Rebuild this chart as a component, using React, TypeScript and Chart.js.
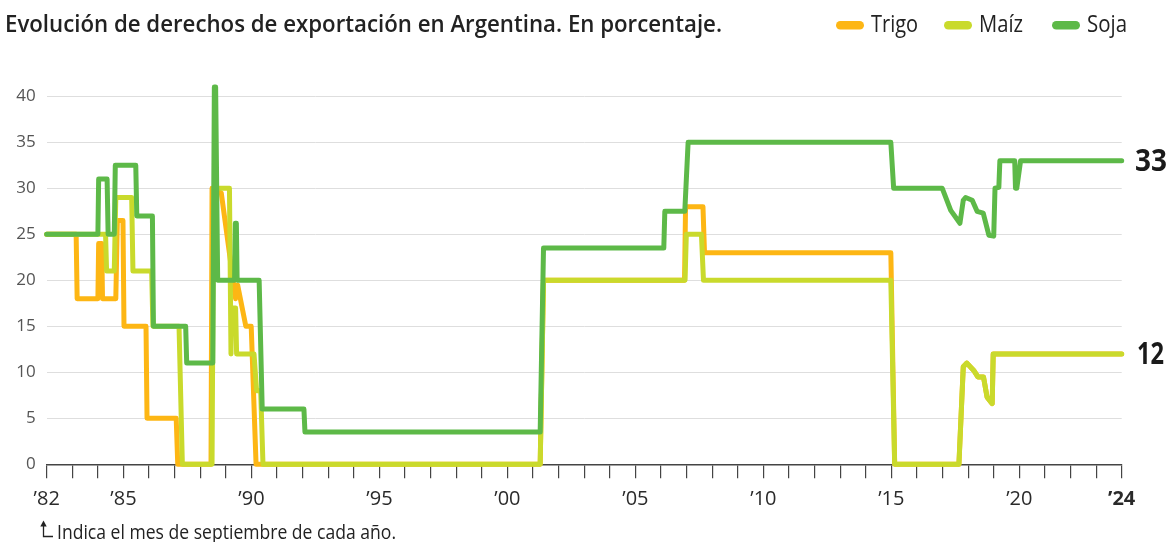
import React, { useEffect, useRef } from 'react';
import { Chart, registerables } from 'chart.js';

Chart.register(...registerables);

// ---------- DATA ----------
const titleText = 'Evolución de derechos de exportación en Argentina. En porcentaje.';
const footnoteText = 'Indica el mes de septiembre de cada año.';

const seriesNames = ['Trigo', 'Maíz', 'Soja'];
const seriesColors = ['#FDB614', '#C9DA2C', '#5DB948'];

// [year (decimal), percentage]
const trigoPoints: [number, number][] = [
  [1982, 25], [1983.15, 25], [1983.19, 18], [1984.0, 18], [1984.03, 24], [1984.15, 24], [1984.18, 18],
  [1984.7, 18], [1984.76, 26.5], [1984.98, 26.5], [1985.02, 15], [1985.88, 15], [1985.92, 5],
  [1987.06, 5], [1987.12, 0], [1988.42, 0], [1988.46, 30], [1988.82, 29.5], [1989.38, 18],
  [1989.46, 19.5], [1989.78, 15], [1989.99, 15], [1990.18, 0], [2001.28, 0], [2001.41, 20],
  [2006.92, 20], [2006.96, 28], [2007.64, 28], [2007.7, 23], [2014.98, 23], [2015.13, 0],
  [2017.64, 0], [2017.81, 10.6], [2017.95, 11], [2018.22, 10.2], [2018.38, 9.5], [2018.6, 9.5],
  [2018.74, 7.3], [2018.94, 6.6], [2018.98, 12], [2024, 12],
];

const maizPoints: [number, number][] = [
  [1982, 25], [1984.3, 25], [1984.34, 21], [1984.64, 21], [1984.7, 29], [1985.32, 29], [1985.37, 21],
  [1986.1, 21], [1986.15, 15], [1987.17, 15], [1987.3, 0], [1988.46, 0], [1988.52, 30],
  [1989.14, 30], [1989.2, 12], [1989.22, 17], [1989.38, 17], [1989.42, 12], [1990.1, 12],
  [1990.2, 8], [1990.36, 8], [1990.45, 0], [2001.28, 0], [2001.41, 20], [2006.94, 20],
  [2006.99, 25], [2007.58, 25], [2007.66, 20], [2014.98, 20], [2015.13, 0], [2017.64, 0],
  [2017.81, 10.6], [2017.95, 11], [2018.22, 10.2], [2018.38, 9.5], [2018.6, 9.5], [2018.74, 7.3],
  [2018.94, 6.6], [2018.98, 12], [2024, 12],
];

const sojaPoints: [number, number][] = [
  [1982, 25], [1984.0, 25], [1984.03, 31], [1984.36, 31], [1984.4, 25], [1984.64, 25],
  [1984.68, 32.5], [1985.48, 32.5], [1985.52, 27], [1986.13, 27], [1986.17, 15], [1987.43, 15],
  [1987.47, 11], [1988.49, 11], [1988.55, 41], [1988.6, 41], [1988.68, 20], [1989.34, 20],
  [1989.37, 26.2], [1989.41, 26.2], [1989.44, 20], [1990.3, 20], [1990.42, 6], [1992.05, 6],
  [1992.09, 3.5], [2001.28, 3.5], [2001.41, 23.5], [2006.11, 23.5], [2006.15, 27.5],
  [2006.93, 27.5], [2007.06, 35], [2014.98, 35], [2015.09, 30], [2016.99, 30], [2017.32, 27.6],
  [2017.68, 26.2], [2017.81, 28.7], [2017.9, 29], [2018.16, 28.7], [2018.35, 27.5],
  [2018.59, 27.3], [2018.81, 24.9], [2019.0, 24.8], [2019.05, 30], [2019.2, 30.1],
  [2019.24, 33], [2019.82, 33], [2019.85, 30], [2019.9, 30], [2020.05, 33], [2024, 33],
];

const xMin = 1982;
const xMax = 2024;
const xLabelYears = [1982, 1985, 1990, 1995, 2000, 2005, 2010, 2015, 2020, 2024];
const yMin = 0;
const yMax = 40;
const yStep = 5;

// ---------- LAYOUT ----------
const W = 1171;
const H = 542;
const FONT = "'Open Sans', 'Noto Sans', sans-serif";

const overlayPlugin = {
  id: 'overlay',
  afterDatasetsDraw(chart: any) {
    const ctx: CanvasRenderingContext2D = chart.ctx;
    const yScale = chart.scales.y;
    ctx.save();
    // end labels (Soja, Maíz)
    ctx.fillStyle = '#1a1a1a';
    ctx.font = `bold 31px ${FONT}`;
    ctx.textAlign = 'left';
    ctx.textBaseline = 'middle';
    const sojaLast = sojaPoints[sojaPoints.length - 1][1];
    const maizLast = maizPoints[maizPoints.length - 1][1];
    ctx.fillText(String(sojaLast), 1135, yScale.getPixelForValue(sojaLast) + 1, 32);
    ctx.fillText(String(maizLast), 1137, yScale.getPixelForValue(maizLast) + 1, 27);
    ctx.restore();
  },
  afterDraw(chart: any) {
    const ctx: CanvasRenderingContext2D = chart.ctx;
    ctx.save();
    // title
    ctx.fillStyle = '#222';
    ctx.textAlign = 'left';
    ctx.textBaseline = 'alphabetic';
    ctx.font = `600 24px ${FONT}`;
    ctx.fillText(titleText, 5, 32, 717);

    // legend
    const legendX = [836, 944, 1052];
    const legendW = [47, 44, 40];
    ctx.font = `400 23px ${FONT}`;
    chart.data.datasets.forEach((ds: any, i: number) => {
      const x = legendX[i];
      ctx.fillStyle = ds.borderColor;
      ctx.beginPath();
      (ctx as any).roundRect(x, 21, 28, 8.5, 4.25);
      ctx.fill();
      ctx.fillStyle = '#222';
      ctx.fillText(ds.label, x + 35, 31.5, legendW[i]);
    });

    // footnote with arrow
    ctx.strokeStyle = '#222';
    ctx.fillStyle = '#222';
    ctx.lineWidth = 1.3;
    ctx.beginPath();
    ctx.moveTo(43.5, 525);
    ctx.lineTo(43.5, 536.5);
    ctx.lineTo(53, 536.5);
    ctx.stroke();
    ctx.beginPath();
    ctx.moveTo(43.5, 520.5);
    ctx.lineTo(40.3, 526.5);
    ctx.lineTo(46.7, 526.5);
    ctx.closePath();
    ctx.fill();
    ctx.font = `400 20px ${FONT}`;
    ctx.fillText(footnoteText, 57, 539, 339);
    ctx.restore();
  },
};

export default function App() {
  const canvasRef = useRef<HTMLCanvasElement | null>(null);

  useEffect(() => {
    document.body.style.margin = '0';
    document.body.style.overflow = 'hidden';
    const canvas = canvasRef.current;
    if (!canvas) return;

    const allPoints = [trigoPoints, maizPoints, sojaPoints];
    const orders = [3, 2, 1];

    const chart = new Chart(canvas, {
      type: 'line',
      data: {
        datasets: allPoints.map((pts, i) => ({
          label: seriesNames[i],
          data: pts.map(([x, y]) => ({ x, y })),
          borderColor: seriesColors[i],
          backgroundColor: seriesColors[i],
          borderWidth: 5,
          pointRadius: 0,
          pointHoverRadius: 0,
          tension: 0,
          borderJoinStyle: 'round',
          borderCapStyle: 'round',
          clip: false,
          order: orders[i],
        })),
      },
      options: {
        responsive: false,
        animation: false,
        devicePixelRatio: 1,
        layout: { padding: { top: 96.3, right: 49.3, left: 0, bottom: 0 } },
        plugins: {
          legend: { display: false },
          title: { display: false },
          tooltip: { enabled: false },
        },
        events: [],
        scales: {
          x: {
            type: 'linear',
            min: xMin,
            max: xMax,
            afterFit: (s: any) => {
              s.height = 77.7;
            },
            ticks: {
              stepSize: 1,
              autoSkip: false,
              maxRotation: 0,
              minRotation: 0,
              padding: 9,
              color: '#2a2a2a',
              font: (c: any) => ({
                family: FONT,
                size: 20,
                weight: c.tick && c.tick.value === 2024 ? 'bold' : 'normal',
              }),
              callback: (v: any) =>
                xLabelYears.includes(Number(v)) ? '\u2019' + String(v).slice(2) : '',
            },
            grid: {
              drawOnChartArea: false,
              drawTicks: true,
              tickLength: 14,
              color: '#444',
              lineWidth: 1.2,
            },
            border: { display: true, color: '#444', width: 1.5 },
          },
          y: {
            min: yMin,
            max: yMax,
            afterFit: (s: any) => {
              s.width = 46.7;
            },
            ticks: {
              stepSize: yStep,
              padding: 11,
              color: '#555',
              font: { family: FONT, size: 17 },
            },
            grid: {
              drawTicks: false,
              color: (c: any) => (c.tick && c.tick.value === 0 ? 'rgba(0,0,0,0)' : '#dedede'),
              lineWidth: 1,
            },
            border: { display: false },
          },
        },
      },
      plugins: [overlayPlugin],
    } as any);

    return () => {
      chart.destroy();
    };
  }, []);

  return (
    <canvas
      ref={canvasRef}
      width={W}
      height={H}
      style={{ display: 'block', width: W + 'px', height: H + 'px' }}
    />
  );
}
